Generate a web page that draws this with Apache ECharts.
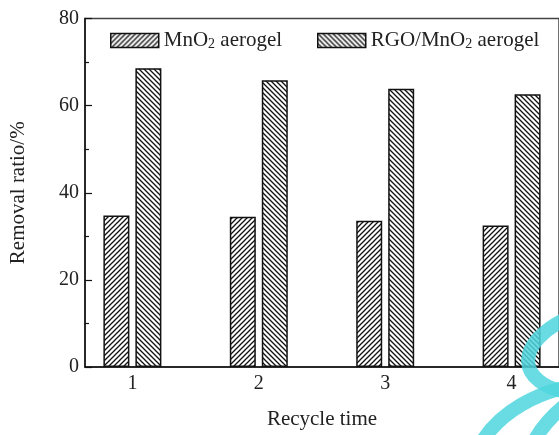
<!DOCTYPE html>
<html>
<head>
<meta charset="utf-8">
<script src="https://cdn.jsdelivr.net/npm/echarts@6/dist/echarts.min.js"></script>
<style>
  html, body { margin: 0; padding: 0; background: #fff; }
  #chart { width: 559px; height: 435px; }
</style>
</head>
<body>
<div id="chart"></div>
<script>
// Recycle runs and removal ratios (%) for the two aerogels
const cycles = [1, 2, 3, 4];
const mno2Removal = [34.8, 34.5, 33.6, 32.5];
const rgoMno2Removal = [68.6, 65.8, 63.9, 62.6];
const yTicks = [0, 20, 40, 60, 80];

const FONT = '"Liberation Serif", "Times New Roman", serif';

// Diagonal hatch tile: '/' or '\' strokes on white
function hatch(dir) {
  const s = 5;
  const c = document.createElement('canvas');
  c.width = s; c.height = s;
  const g = c.getContext('2d');
  g.fillStyle = '#fff';
  g.fillRect(0, 0, s, s);
  g.strokeStyle = '#111';
  g.lineWidth = 1.3;
  g.beginPath();
  if (dir === '/') {
    g.moveTo(-1, s + 1); g.lineTo(s + 1, -1);
    g.moveTo(-1, 1); g.lineTo(1, -1);
    g.moveTo(s - 1, s + 1); g.lineTo(s + 1, s - 1);
  } else {
    g.moveTo(-1, -1); g.lineTo(s + 1, s + 1);
    g.moveTo(-1, s - 1); g.lineTo(1, s + 1);
    g.moveTo(s - 1, -1); g.lineTo(s + 1, 1);
  }
  g.stroke();
  return c;
}

const chart = echarts.init(document.getElementById('chart'), null, { renderer: 'canvas' });

const barStyle = (dir) => ({
  color: { image: hatch(dir), repeat: 'repeat' },
  borderColor: '#111',
  borderWidth: 1.5
});

const legendText = {
  fontFamily: FONT,
  fontSize: 21,
  color: '#222',
  rich: {
    t: { fontFamily: FONT, fontSize: 21, color: '#222' },
    sub: { fontFamily: FONT, fontSize: 14, color: '#222', verticalAlign: 'bottom', padding: [8, 0, 0, 0] }
  }
};

chart.setOption({
  animation: false,
  backgroundColor: '#fff',
  textStyle: { fontFamily: FONT },
  grid: {
    left: 83, top: 18.5, width: 480, height: 351,
    show: true, borderColor: '#444', borderWidth: 1.5,
    containLabel: false
  },
  legend: [
    {
      data: ['MnO2 aerogel'],
      left: 105, top: 25,
      icon: 'rect',
      itemWidth: 48, itemHeight: 14, itemGap: 0,
      itemStyle: { borderColor: '#111', borderWidth: 1.5 },
      formatter: () => '{t|MnO}{sub|2}{t| aerogel}',
      textStyle: legendText
    },
    {
      data: ['RGO/MnO2 aerogel'],
      left: 312, top: 25,
      icon: 'rect',
      itemWidth: 48, itemHeight: 14, itemGap: 0,
      itemStyle: { borderColor: '#111', borderWidth: 1.5 },
      formatter: () => '{t|RGO/MnO}{sub|2}{t| aerogel}',
      textStyle: legendText
    }
  ],
  xAxis: {
    type: 'value',
    min: 0.625, max: 4.375,
    name: 'Recycle time',
    nameLocation: 'middle',
    nameGap: 42,
    nameTextStyle: { fontFamily: FONT, fontSize: 21, color: '#222' },
    axisLine: { show: true, lineStyle: { color: '#111', width: 1.5 } },
    axisTick: { show: false },
    splitLine: { show: false },
    axisLabel: {
      customValues: cycles,
      fontFamily: FONT, fontSize: 20, color: '#222', margin: 7,
      formatter: (v) => String(v)
    }
  },
  yAxis: {
    type: 'value',
    min: yTicks[0], max: yTicks[yTicks.length - 1], interval: 20,
    name: 'Removal ratio/%',
    nameLocation: 'middle',
    nameGap: 56,
    nameTextStyle: { fontFamily: FONT, fontSize: 21, color: '#222' },
    axisLine: { show: true, lineStyle: { color: '#111', width: 1.5 } },
    axisTick: { show: true, inside: true, length: 7, lineStyle: { color: '#111', width: 1.2 } },
    minorTick: { show: true, splitNumber: 2, length: 4, lineStyle: { color: '#111', width: 1.2 } },
    splitLine: { show: false },
    axisLabel: { fontFamily: FONT, fontSize: 20, color: '#222', margin: 6 }
  },
  series: [
    {
      name: 'MnO2 aerogel',
      type: 'bar',
      barWidth: 26,
      barGap: '23%',
      itemStyle: barStyle('/'),
      data: cycles.map((c, i) => [c, mno2Removal[i]])
    },
    {
      name: 'RGO/MnO2 aerogel',
      type: 'bar',
      barWidth: 26,
      barGap: '23%',
      itemStyle: barStyle('\\'),
      data: cycles.map((c, i) => [c, rgoMno2Removal[i]])
    }
  ],
  graphic: [
    // cyan logo mark in the lower right corner
    {
      type: 'bezierCurve', z: 100, silent: true,
      shape: { x1: 572, y1: 316, cpx1: 512, cpy1: 342, cpx2: 515, cpy2: 385, x2: 572, y2: 393 },
      style: { stroke: '#4fd6de', lineWidth: 14, fill: null, opacity: 0.85 }
    },
    {
      type: 'bezierCurve', z: 100, silent: true,
      shape: { x1: 572, y1: 386, cpx1: 540, cpy1: 392, cpx2: 500, cpy2: 410, x2: 480, y2: 445 },
      style: { stroke: '#4fd6de', lineWidth: 14, fill: null, opacity: 0.85 }
    },
    {
      type: 'bezierCurve', z: 100, silent: true,
      shape: { x1: 572, y1: 400, cpx1: 555, cpy1: 412, cpx2: 542, cpy2: 425, x2: 532, y2: 445 },
      style: { stroke: '#4fd6de', lineWidth: 14, fill: null, opacity: 0.85 }
    }
  ]
});
</script>
</body>
</html>
